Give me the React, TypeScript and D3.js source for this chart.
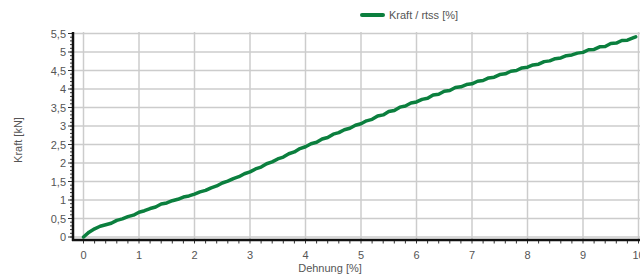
import { useEffect, useRef } from "react";
import * as d3 from "d3";

// Dehnung [%]
const strain = [
  0, 0.1, 0.2, 0.3, 0.4, 0.5, 0.6, 0.7, 0.8, 0.9,
  1.0, 1.1, 1.2, 1.3, 1.4, 1.5, 1.6, 1.7, 1.8, 1.9,
  2.0, 2.1, 2.2, 2.3, 2.4, 2.5, 2.6, 2.7, 2.8, 2.9,
  3.0, 3.1, 3.2, 3.3, 3.4, 3.5, 3.6, 3.7, 3.8, 3.9,
  4.0, 4.1, 4.2, 4.3, 4.4, 4.5, 4.6, 4.7, 4.8, 4.9,
  5.0, 5.1, 5.2, 5.3, 5.4, 5.5, 5.6, 5.7, 5.8, 5.9,
  6.0, 6.1, 6.2, 6.3, 6.4, 6.5, 6.6, 6.7, 6.8, 6.9,
  7.0, 7.1, 7.2, 7.3, 7.4, 7.5, 7.6, 7.7, 7.8, 7.9,
  8.0, 8.1, 8.2, 8.3, 8.4, 8.5, 8.6, 8.7, 8.8, 8.9,
  9.0, 9.1, 9.2, 9.3, 9.4, 9.5, 9.6, 9.7, 9.8, 9.9, 9.95,
];

// Kraft [kN]
const force = [
  0.0, 0.13, 0.22, 0.29, 0.33, 0.37, 0.45, 0.49, 0.55, 0.59,
  0.67, 0.71, 0.77, 0.81, 0.89, 0.92, 0.98, 1.02, 1.08, 1.11,
  1.16, 1.22, 1.26, 1.33, 1.38, 1.46, 1.51, 1.58, 1.63, 1.71,
  1.76, 1.84, 1.89, 1.98, 2.03, 2.11, 2.16, 2.25, 2.3, 2.39,
  2.44, 2.52, 2.56, 2.65, 2.69, 2.78, 2.82, 2.9, 2.94, 3.02,
  3.06, 3.14, 3.18, 3.27, 3.3, 3.39, 3.42, 3.51, 3.54, 3.62,
  3.65, 3.72, 3.75, 3.84, 3.86, 3.94, 3.96, 4.04, 4.06, 4.12,
  4.14, 4.21, 4.23, 4.3, 4.32, 4.39, 4.41, 4.48, 4.5, 4.57,
  4.59, 4.65, 4.67, 4.74, 4.76, 4.82, 4.84, 4.9, 4.92, 4.97,
  4.99, 5.06, 5.07, 5.14, 5.15, 5.23, 5.24, 5.31, 5.32, 5.38, 5.41,
];

const xTicks = [0, 1, 2, 3, 4, 5, 6, 7, 8, 9, 10];
const yTicks = [0, 0.5, 1, 1.5, 2, 2.5, 3, 3.5, 4, 4.5, 5, 5.5];
const seriesName = "Kraft / rtss [%]";

const GREEN = "#0b7f3e";
const TEXT = "#555";
const FONT = "'Liberation Sans', Arial, sans-serif";

export default function App() {
  const ref = useRef<SVGSVGElement>(null);

  useEffect(() => {
    if (!ref.current) return;
    const width = 640;
    const height = 275;
    const left = 73;
    const right = 640;
    const top = 32;
    const bottom = 240;

    const x = d3.scaleLinear().domain([0, 10]).range([83.5, 638.5]);
    const y = d3.scaleLinear().domain([0, 5.5]).range([237, 33.5]);

    const svg = d3.select(ref.current);
    svg.selectAll("*").remove();
    svg.attr("width", width).attr("height", height);

    // grid
    svg.append("g")
      .selectAll("line")
      .data(xTicks)
      .join("line")
      .attr("x1", (d) => x(d))
      .attr("x2", (d) => x(d))
      .attr("y1", top)
      .attr("y2", bottom)
      .attr("stroke", "#cccccc")
      .attr("stroke-width", 1.5);
    svg.append("g")
      .selectAll("line")
      .data(yTicks)
      .join("line")
      .attr("x1", left)
      .attr("x2", right)
      .attr("y1", (d) => y(d))
      .attr("y2", (d) => y(d))
      .attr("stroke", "#cccccc")
      .attr("stroke-width", 1.5);

    // minor ticks
    const xMinor = d3.range(0, 10.01, 0.2);
    svg.append("g")
      .selectAll("line")
      .data(xMinor)
      .join("line")
      .attr("x1", (d) => x(d))
      .attr("x2", (d) => x(d))
      .attr("y1", bottom)
      .attr("y2", bottom + 3.5)
      .attr("stroke", "#333")
      .attr("stroke-width", 1);
    const yMinor = d3.range(0, 5.51, 0.1);
    svg.append("g")
      .selectAll("line")
      .data(yMinor)
      .join("line")
      .attr("x1", left - 3)
      .attr("x2", left)
      .attr("y1", (d) => y(d))
      .attr("y2", (d) => y(d))
      .attr("stroke", "#333")
      .attr("stroke-width", 1);
    svg.append("g")
      .selectAll("line")
      .data(yTicks)
      .join("line")
      .attr("x1", left - 5)
      .attr("x2", left)
      .attr("y1", (d) => y(d))
      .attr("y2", (d) => y(d))
      .attr("stroke", "#333")
      .attr("stroke-width", 1);

    // axis lines
    svg.append("line")
      .attr("x1", left).attr("x2", left)
      .attr("y1", top).attr("y2", bottom + 1)
      .attr("stroke", "#111").attr("stroke-width", 2.5);
    svg.append("line")
      .attr("x1", left - 1).attr("x2", right)
      .attr("y1", bottom).attr("y2", bottom)
      .attr("stroke", "#111").attr("stroke-width", 2.5);

    // tick labels
    const fmt = (d: number) => String(d).replace(".", ",");
    svg.append("g")
      .selectAll("text")
      .data(yTicks)
      .join("text")
      .attr("x", left - 7)
      .attr("y", (d) => y(d) + 4)
      .attr("text-anchor", "end")
      .attr("font-family", FONT)
      .attr("font-size", 11)
      .attr("fill", TEXT)
      .text(fmt);
    svg.append("g")
      .selectAll("text")
      .data(xTicks)
      .join("text")
      .attr("x", (d) => x(d))
      .attr("y", 259)
      .attr("text-anchor", "middle")
      .attr("font-family", FONT)
      .attr("font-size", 11)
      .attr("fill", TEXT)
      .text(fmt);

    // axis titles
    svg.append("text")
      .attr("x", 330)
      .attr("y", 272)
      .attr("text-anchor", "middle")
      .attr("font-family", FONT)
      .attr("font-size", 11)
      .attr("fill", TEXT)
      .text("Dehnung [%]");
    svg.append("text")
      .attr("transform", "translate(22,140) rotate(-90)")
      .attr("text-anchor", "middle")
      .attr("font-family", FONT)
      .attr("font-size", 11)
      .attr("fill", TEXT)
      .text("Kraft [kN]");

    // data line
    const pts = strain.map((s, i) => [s, force[i]] as [number, number]);
    const line = d3
      .line<[number, number]>()
      .x((d) => x(d[0]))
      .y((d) => y(d[1]));
    svg.append("path")
      .datum(pts)
      .attr("d", line)
      .attr("fill", "none")
      .attr("stroke", GREEN)
      .attr("stroke-width", 3.5)
      .attr("stroke-linejoin", "round")
      .attr("stroke-linecap", "round");

    // legend
    svg.append("line")
      .attr("x1", 362).attr("x2", 383)
      .attr("y1", 15).attr("y2", 15)
      .attr("stroke", GREEN).attr("stroke-width", 4)
      .attr("stroke-linecap", "round");
    svg.append("text")
      .attr("x", 389)
      .attr("y", 19)
      .attr("font-family", FONT)
      .attr("font-size", 11)
      .attr("fill", TEXT)
      .text(seriesName);
  }, []);

  return (
    <svg
      ref={ref}
      style={{ position: "absolute", left: 0, top: 0, background: "#fff" }}
    />
  );
}
